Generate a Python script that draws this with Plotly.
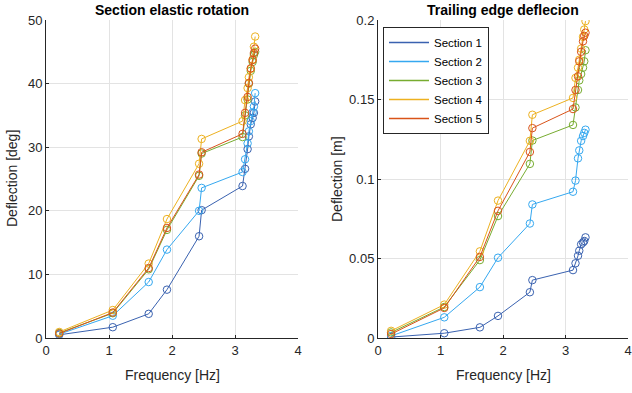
import plotly.graph_objects as go

freq = [0.21, 1.06, 1.63, 1.92, 2.43, 2.47, 3.12, 3.16, 3.20, 3.22, 3.25, 3.28, 3.30, 3.32]

names = ["Section 1", "Section 2", "Section 3", "Section 4", "Section 5"]
colors = ["#3A62B0", "#35A8F0", "#77AC30", "#EDB120", "#D95319"]

rot_s1 = [0.5, 1.7, 3.8, 7.6, 16.0, 20.1, 23.9, 26.6, 29.7, 31.7, 33.6, 34.6, 35.4, 37.2]
rot_s2 = [0.6, 3.5, 8.8, 13.9, 20.0, 23.6, 26.1, 28.1, 30.6, 32.5, 34.1, 35.5, 36.4, 38.5]
rot_s3 = [0.8, 3.9, 10.8, 17.0, 25.5, 29.0, 31.6, 35.0, 37.5, 40.0, 42.0, 43.4, 44.5, 45.0]
rot_s4 = [0.95, 4.4, 11.7, 18.7, 27.4, 31.3, 34.1, 37.4, 39.3, 41.0, 42.3, 43.8, 45.8, 47.4]
rot_s5 = [0.7, 4.0, 11.0, 17.3, 25.7, 29.2, 32.1, 35.4, 37.9, 40.1, 42.4, 43.7, 44.8, 45.5]

te_s1 = [0.0006, 0.003, 0.0067, 0.0139, 0.0288, 0.0364, 0.0427, 0.047, 0.0517, 0.0549, 0.0589, 0.0601, 0.061, 0.0633]
te_s2 = [0.0013, 0.013, 0.032, 0.0505, 0.072, 0.084, 0.092, 0.099, 0.113, 0.118, 0.124, 0.127, 0.129, 0.131]
te_s3 = [0.0035, 0.0195, 0.049, 0.0767, 0.1095, 0.1242, 0.134, 0.145, 0.156, 0.162, 0.166, 0.170, 0.174, 0.181]
te_s4 = [0.0045, 0.021, 0.0545, 0.0864, 0.124, 0.1404, 0.151, 0.1636, 0.170, 0.175, 0.182, 0.1894, 0.194, 0.1993]
te_s5 = [0.0025, 0.0189, 0.051, 0.080, 0.117, 0.132, 0.144, 0.156, 0.1646, 0.174, 0.180, 0.1866, 0.190, 0.192]

rot = [rot_s1, rot_s2, rot_s3, rot_s4, rot_s5]
te = [te_s1, te_s2, te_s3, te_s4, te_s5]

x_ticks = [0, 1, 2, 3, 4]
rot_ticks = [0, 10, 20, 30, 40, 50]
te_ticks = [0, 0.05, 0.1, 0.15, 0.2]
te_tick_text = ["0", "0.05", "0.1", "0.15", "0.2"]

FONT = "Liberation Sans, Arial, Helvetica, sans-serif"
TXT = "#262626"

fig = go.Figure()

for i in range(5):
    fig.add_trace(go.Scatter(
        x=freq, y=rot[i], mode="lines+markers", name=names[i],
        line=dict(color=colors[i], width=1),
        marker=dict(symbol="circle-open", size=7.5, color=colors[i], line=dict(width=1)),
        xaxis="x", yaxis="y", showlegend=False))
for i in range(5):
    fig.add_trace(go.Scatter(
        x=freq, y=te[i], mode="lines+markers", name=names[i],
        line=dict(color=colors[i], width=1),
        marker=dict(symbol="circle-open", size=7.5, color=colors[i], line=dict(width=1)),
        xaxis="x2", yaxis="y2", showlegend=False))
# legend entries (line only, as in the reference)
for i in range(5):
    fig.add_trace(go.Scatter(
        x=[None], y=[None], mode="lines", name=names[i],
        line=dict(color=colors[i], width=1.5),
        xaxis="x2", yaxis="y2", showlegend=True))

W, H = 632, 393
def px_x(p):
    return p / W
def px_y(p):
    return 1 - p / H

axis_common = dict(
    showgrid=True, gridcolor="#E3E3E3", gridwidth=1,
    showline=True, linecolor="#262626", linewidth=1,
    ticks="inside", ticklen=3, tickcolor="#262626",
    zeroline=False, mirror=False, automargin=False,
    tickfont=dict(family=FONT, size=13, color=TXT),
)

fig.update_layout(
    width=W, height=H, autosize=False,
    margin=dict(l=0, r=0, t=0, b=0, pad=0),
    paper_bgcolor="white", plot_bgcolor="white",
    font=dict(family=FONT, size=13, color=TXT),
    xaxis=dict(domain=[px_x(46), px_x(298)], range=[0, 4], tickvals=x_ticks,
               anchor="y", **axis_common),
    yaxis=dict(domain=[px_y(338), px_y(20)], range=[0, 50], tickvals=rot_ticks,
               anchor="x", **axis_common),
    xaxis2=dict(domain=[px_x(378), px_x(628)], range=[0, 4], tickvals=x_ticks,
                anchor="y2", **axis_common),
    yaxis2=dict(domain=[px_y(338), px_y(20)], range=[0, 0.2], tickvals=te_ticks,
                ticktext=te_tick_text, anchor="x2", **axis_common),
    legend=dict(x=px_x(383), y=px_y(27), xanchor="left", yanchor="top",
                bordercolor="#262626", borderwidth=1, bgcolor="white",
                font=dict(family=FONT, size=11.5, color="#000000"),
                tracegroupgap=0, itemwidth=40),
    showlegend=True,
)

def ann(text, xp, yp, size, color, angle=0):
    return dict(text=text, x=px_x(xp), y=px_y(yp), xref="paper", yref="paper",
                xanchor="center", yanchor="middle", showarrow=False, textangle=angle,
                font=dict(family=FONT, size=size, color=color))

annotations = [
    ann("<b>Section elastic rotation</b>", 172, 10, 14, "#000000"),
    ann("<b>Trailing edge deflecion</b>", 503, 10, 14, "#000000"),
    ann("Frequency [Hz]", 172, 375, 14, TXT),
    ann("Frequency [Hz]", 503, 375, 14, TXT),
    ann("Deflection [deg]", 12, 179, 14, TXT, -90),
    ann("Deflection [m]", 337, 179, 14, TXT, -90),
]
fig.update_layout(annotations=annotations)

fig.write_html("out.html")
